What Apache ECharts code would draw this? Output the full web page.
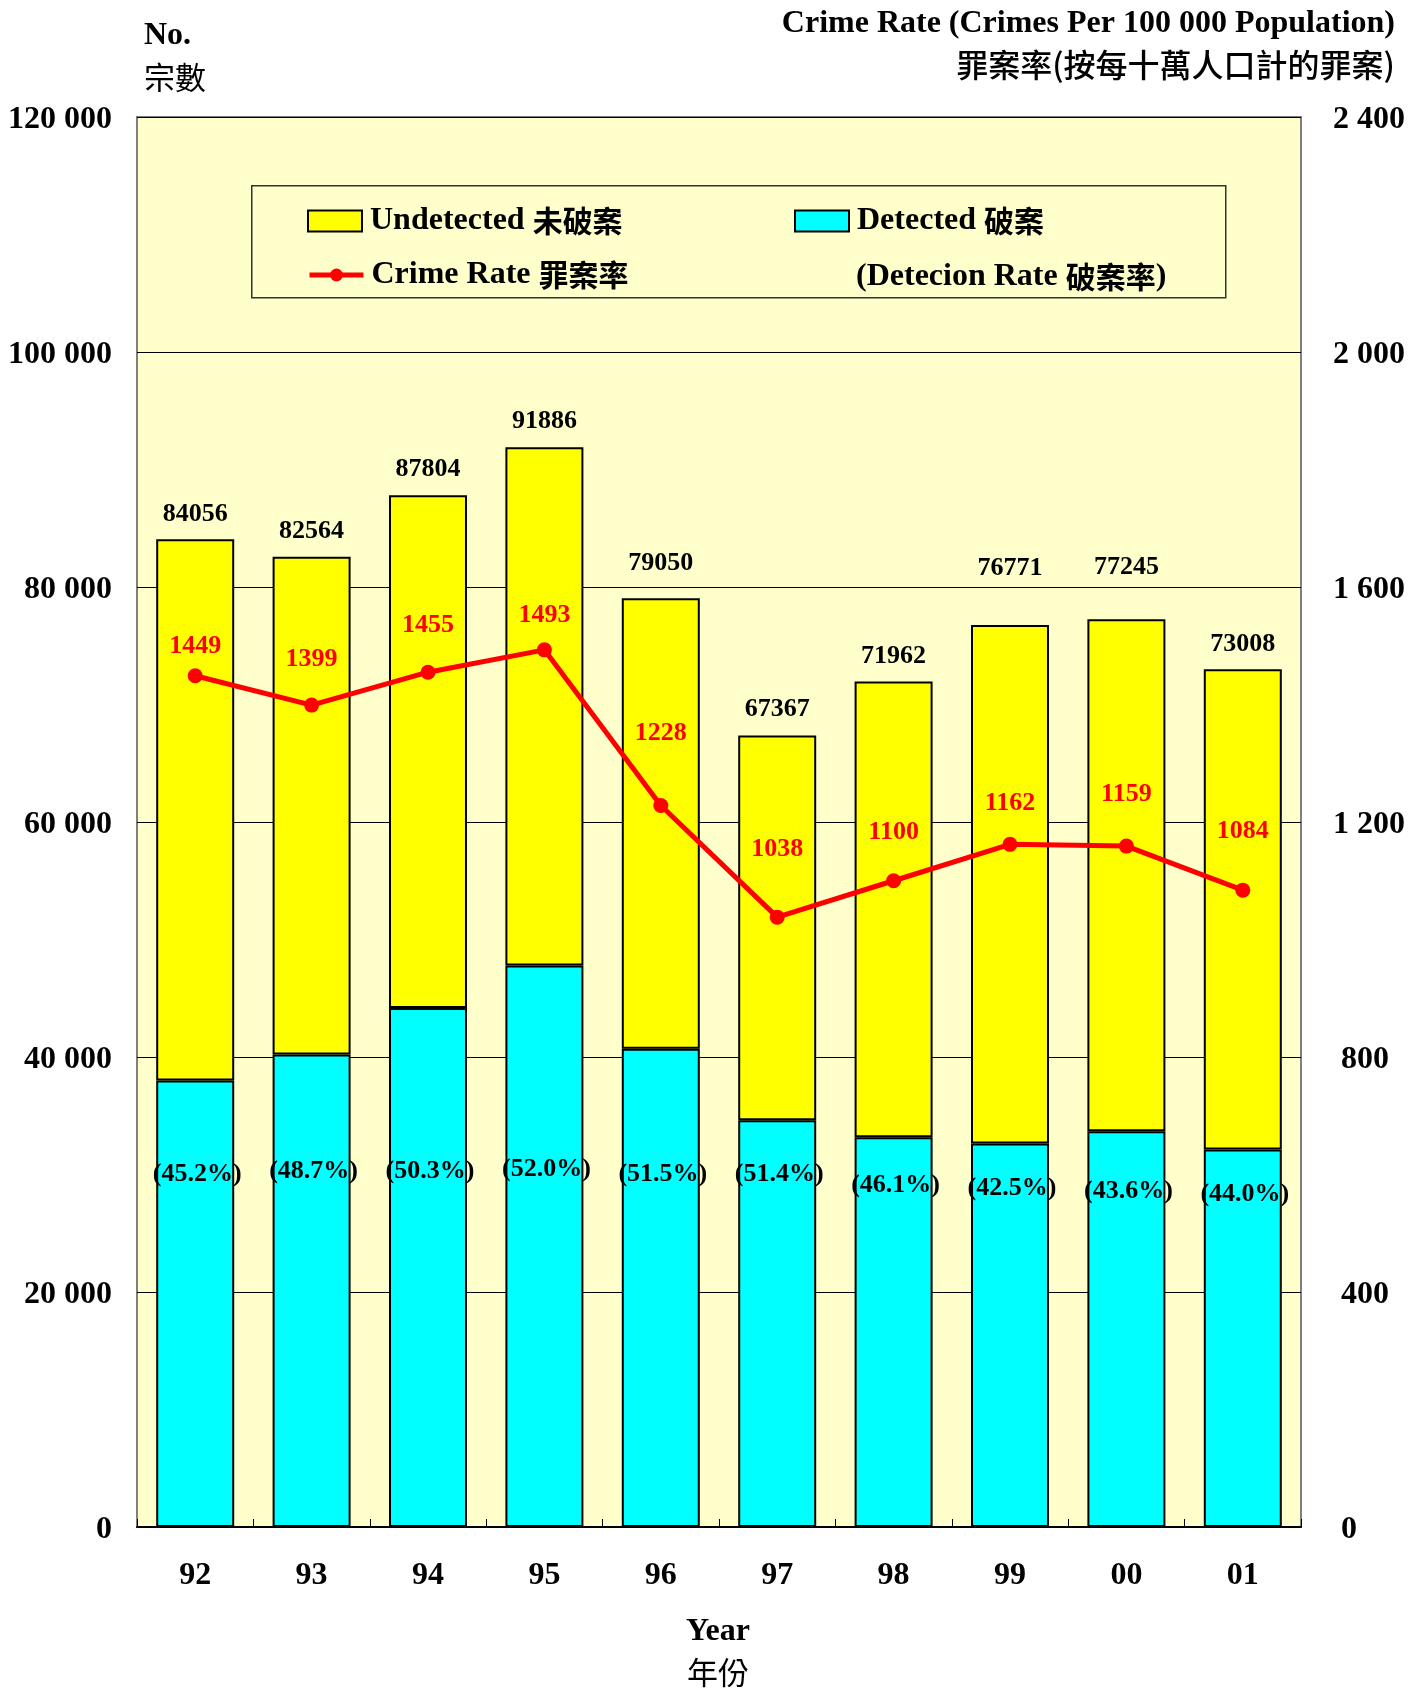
<!DOCTYPE html>
<html>
<head>
<meta charset="utf-8">
<script src="https://cdn.jsdelivr.net/npm/echarts@6/dist/echarts.min.js"></script>
<style>
html,body{margin:0;padding:0;background:#fff;}
#chart{width:1423px;height:1689px;}
</style>
</head>
<body>
<div id="chart"></div>
<script>
// ---- data ----
const years = ['92', '93', '94', '95', '96', '97', '98', '99', '00', '01'];
const totalCrimes = [84056, 82564, 87804, 91886, 79050, 67367, 71962, 76771, 77245, 73008];
const detectedCrimes = [37993, 40209, 44165, 47781, 40711, 34627, 33174, 32628, 33679, 32124];
const undetectedCrimes = [46063, 42355, 43639, 44105, 38339, 32740, 38788, 44143, 43566, 40884];
const crimeRate = [1449, 1399, 1455, 1493, 1228, 1038, 1100, 1162, 1159, 1084];
const detectionRate = [45.2, 48.7, 50.3, 52.0, 51.5, 51.4, 46.1, 42.5, 43.6, 44.0];
const leftTicks = [0, 20000, 40000, 60000, 80000, 100000, 120000];
const rightTicks = [0, 400, 800, 1200, 1600, 2000, 2400];

// ---- style ----
const SERIF = "'Liberation Serif', 'Times New Roman', 'Noto Sans CJK TC', serif";
const CJK = "'Noto Sans CJK TC', 'Noto Sans CJK SC', sans-serif";
const spaced = v => String(v).replace(/\B(?=(\d{3})+(?!\d))/g, ' ');
const fmtLeft = v => '{t|' + spaced(v) + '}';
const fmtRight = v => (v < 1000 ? '{s|' : '{t|') + spaced(v) + '}';

function buildOption() {
  // label nudges (pixels), styling only
  const totalLabelShift = [-12, -13, -13, -13, -22, -13, -12, -44, -39, -12];
  const rateLabelShift = [-4, -20, -21, -9, -47, -42, -23, -16, -26, -33];
  const pctLabelShift = [-340, -343, -343, -345, -340, -340, -329, -326, -323, -320];

  const leftMin = leftTicks[0], leftMax = leftTicks[leftTicks.length - 1];
  const rightMin = rightTicks[0], rightMax = rightTicks[rightTicks.length - 1];

  const tickRich = {
    t: { fontFamily: SERIF, fontWeight: 'bold', fontSize: 32, color: '#000', padding: [5, 0, 0, 0] },
    s: { fontFamily: SERIF, fontWeight: 'bold', fontSize: 32, color: '#000', padding: [5, 0, 0, 8] }
  };
  const legendRich = {
    en: { fontFamily: SERIF, fontWeight: 'bold', fontSize: 32, color: '#000' },
    zh: { fontFamily: CJK, fontWeight: 'bold', fontSize: 30, color: '#000' }
  };
  const legendText = {
    fontFamily: SERIF, fontWeight: 'bold', fontSize: 32, color: '#000', padding: [0, 0, 0, 3],
    rich: legendRich
  };
  const legendFmt = name => {
    const parts = name.split(' ');
    const zh = parts.pop();
    return '{en|' + parts.join(' ') + ' }{zh|' + zh + '}';
  };

  return {
    backgroundColor: '#ffffff',
    animation: false,
    grid: {
      left: 137, top: 117, width: 1164, height: 1410,
      show: true, backgroundColor: '#FFFFCC', borderColor: '#808080', borderWidth: 2
    },
    legend: [
      { data: [{ name: 'Undetected 未破案', icon: 'rect' }], left: 307, top: 205, padding: 0, itemWidth: 54, itemHeight: 21,
        textStyle: legendText, formatter: legendFmt },
      { data: [{ name: 'Detected 破案', icon: 'rect' }], left: 794, top: 205, padding: 0, itemWidth: 54, itemHeight: 21,
        textStyle: legendText, formatter: legendFmt },
      { data: ['Crime Rate 罪案率'], left: 307, top: 259, padding: 0, itemWidth: 54, itemHeight: 16,
        lineStyle: { width: 5, color: '#FF0000' },
        textStyle: legendText, formatter: legendFmt }
    ],
    xAxis: {
      type: 'category', data: years, boundaryGap: true,
      axisLine: { show: true, lineStyle: { color: '#000', width: 2 } },
      axisTick: { show: true, inside: true, length: 8, lineStyle: { color: '#000', width: 1 } },
      axisLabel: { margin: 33, fontFamily: SERIF, fontWeight: 'bold', fontSize: 32, color: '#000' },
      splitLine: { show: false }
    },
    yAxis: [
      {
        type: 'value', min: leftMin, max: leftMax, interval: leftTicks[1] - leftTicks[0],
        axisLine: { show: false }, axisTick: { show: false },
        axisLabel: { margin: 25, fontFamily: SERIF, fontWeight: 'bold', fontSize: 32, color: '#000',
          formatter: fmtLeft, rich: tickRich },
        splitLine: { show: true, lineStyle: { color: '#000', width: 1 } }
      },
      {
        type: 'value', position: 'right', min: rightMin, max: rightMax, interval: rightTicks[1] - rightTicks[0],
        axisLine: { show: false }, axisTick: { show: false },
        axisLabel: { margin: 32, align: 'left', fontFamily: SERIF, fontWeight: 'bold', fontSize: 32, color: '#000',
          formatter: fmtRight, rich: tickRich },
        splitLine: { show: false }
      }
    ],
    series: [
      {
        name: 'Detected 破案', type: 'bar', stack: 'crimes', barWidth: 78, yAxisIndex: 0,
        itemStyle: { color: '#00FFFF', borderColor: '#000', borderWidth: 2 },
        data: detectedCrimes.map((v, i) => ({
          value: v,
          label: {
            show: true, position: 'insideBottom', distance: 0, offset: [2, pctLabelShift[i]],
            formatter: '(' + detectionRate[i].toFixed(1) + '%)',
            fontFamily: SERIF, fontWeight: 'bold', fontSize: 26, color: '#000'
          }
        }))
      },
      {
        name: 'Undetected 未破案', type: 'bar', stack: 'crimes', barWidth: 78, yAxisIndex: 0,
        itemStyle: { color: '#FFFF00', borderColor: '#000', borderWidth: 2 },
        data: undetectedCrimes.map((v, i) => ({
          value: v,
          label: {
            show: true, position: 'top', distance: 0, offset: [0, totalLabelShift[i]],
            formatter: String(totalCrimes[i]),
            fontFamily: SERIF, fontWeight: 'bold', fontSize: 26, color: '#000'
          }
        }))
      },
      {
        name: 'Crime Rate 罪案率', type: 'line', yAxisIndex: 1, z: 5,
        symbol: 'circle', symbolSize: 15,
        lineStyle: { color: '#FF0000', width: 5 },
        itemStyle: { color: '#FF0000' },
        data: crimeRate.map((v, i) => ({
          value: v,
          label: {
            show: true, position: 'top', distance: 5, offset: [0, rateLabelShift[i]],
            fontFamily: SERIF, fontWeight: 'bold', fontSize: 26, color: '#FF0000'
          }
        }))
      }
    ],
    graphic: [
      { type: 'rect', left: 251, top: 185, z: 1,
        shape: { width: 974, height: 112 },
        style: { fill: 'rgba(0,0,0,0)', stroke: '#333', lineWidth: 1.5 } },
      { type: 'text', left: 856, top: 261, z: 10,
        style: { text: '{en|(Detecion Rate }{zh|破案率}{en|)}', rich: legendRich, fill: '#000' } },
      { type: 'text', left: 144, top: 20,
        style: { text: 'No.', font: "bold 32px " + SERIF, fill: '#000' } },
      { type: 'text', left: 144, top: 62,
        style: { text: '宗數', font: "normal 31px " + CJK, fill: '#000' } },
      { type: 'text', right: 28, top: 8,
        style: { text: 'Crime Rate (Crimes Per 100 000 Population)', font: "bold 32px " + SERIF, fill: '#000' } },
      { type: 'text', right: 28, top: 49,
        style: { text: '罪案率(按每十萬人口計的罪案)', font: "500 32px " + CJK, fill: '#000' } },
      { type: 'text', x: 718, y: 1616,
        style: { text: 'Year', font: "bold 32px " + SERIF, fill: '#000', align: 'center' } },
      { type: 'text', x: 718, y: 1657,
        style: { text: '年份', font: "normal 31px " + CJK, fill: '#000', align: 'center' } }
    ]
  };
}

const chart = echarts.init(document.getElementById('chart'), null, { renderer: 'canvas' });
chart.setOption(buildOption());
</script>
</body>
</html>
